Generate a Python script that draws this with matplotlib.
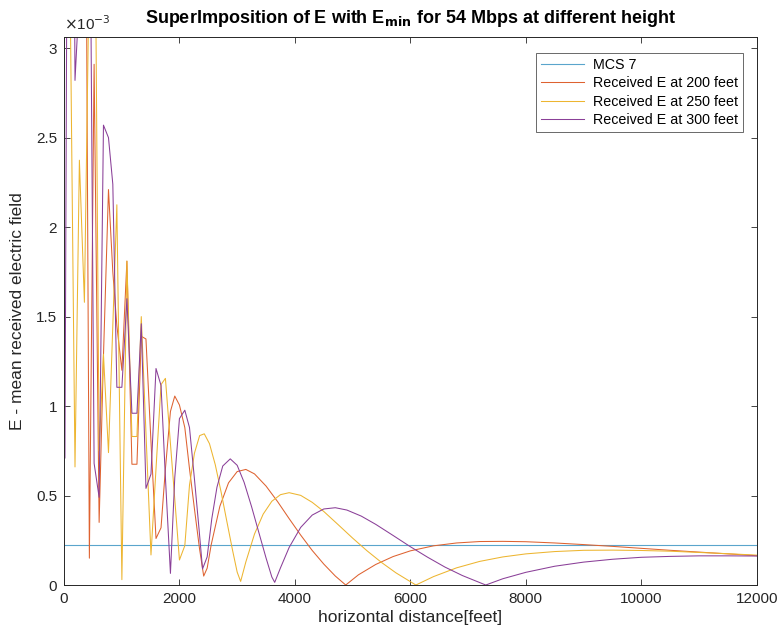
import numpy as np
import matplotlib.pyplot as plt
from matplotlib.ticker import FuncFormatter

plt.rcParams['font.family'] = ['Liberation Sans', 'DejaVu Sans']

# valeurs en unités de 1e-3
mcs7_level = 0.222
mcs7_dist = [0, 12000]

# zone proche : échantillonnage grossier commun aux trois hauteurs
dist_near = [17, 104, 191, 267, 354, 440, 522, 609, 684, 771, 846, 916, 1003,
             1090, 1177, 1264, 1339, 1420, 1507, 1594, 1681, 1757, 1844, 1919,
             2000, 2093, 2174]
e200_near = [9.0, 8.0, 6.5, 5.8, 5.6, 0.15, 2.91, 0.35, 1.28, 2.21, 1.75, 1.45,
             1.20, 1.81, 0.675, 0.675, 1.39, 1.375, 0.80, 0.26, 0.32, 0.65,
             0.97, 1.056, 1.006, 0.88, 0.65]
e250_near = [4.0, 3.4, 0.66, 2.374, 1.58, 3.5, 4.5, 0.75, 1.29, 0.74, 1.45,
             2.125, 0.03, 1.81, 0.83, 0.83, 1.50, 0.85, 0.168, 0.65, 1.12,
             1.155, 0.79, 0.48, 0.14, 0.22, 0.558]
e300_near = [0.71, 7.9, 2.82, 3.3, 5.0, 4.4, 0.68, 0.49, 2.57, 2.50, 2.24,
             1.105, 1.105, 1.60, 0.96, 0.96, 1.46, 0.54, 0.62, 1.21, 1.115,
             0.60, 0.065, 0.60, 0.93, 0.977, 0.88]

# zone lointaine
dist200_far = [2260, 2346, 2420, 2480, 2550, 2700, 2850, 3000, 3150, 3300, 3500,
               3700, 3900, 4100, 4300, 4500, 4700, 4880, 5100, 5400, 5700, 6000,
               6400, 6800, 7200, 7600, 8000, 8500, 9000, 9500, 10000, 10500,
               11000, 11500, 12000]
e200_far = [0.425, 0.207, 0.05, 0.094, 0.225, 0.440, 0.571, 0.634, 0.646, 0.621,
            0.553, 0.466, 0.371, 0.279, 0.193, 0.117, 0.050, 0.0, 0.057, 0.115,
            0.159, 0.191, 0.219, 0.235, 0.243, 0.244, 0.242, 0.235, 0.226,
            0.216, 0.205, 0.194, 0.184, 0.174, 0.164]

dist250_far = [2260, 2350, 2430, 2520, 2620, 2720, 2820, 2920, 3000, 3060, 3150,
               3300, 3450, 3600, 3750, 3900, 4100, 4300, 4500, 4750, 5000, 5250,
               5500, 5750, 6095, 6400, 6800, 7200, 7600, 8000, 8500, 9000, 9500,
               10000, 10500, 11000, 11500, 12000]
e250_far = [0.737, 0.835, 0.845, 0.790, 0.673, 0.522, 0.357, 0.194, 0.072, 0.02,
            0.129, 0.285, 0.396, 0.468, 0.505, 0.516, 0.501, 0.462, 0.411, 0.337,
            0.262, 0.191, 0.126, 0.068, 0.0, 0.047, 0.096, 0.132, 0.157, 0.174,
            0.187, 0.194, 0.195, 0.193, 0.189, 0.182, 0.175, 0.167]

dist300_far = [2260, 2340, 2400, 2480, 2560, 2650, 2750, 2880, 3000, 3120, 3250,
               3380, 3500, 3600, 3650, 3750, 3900, 4100, 4300, 4500, 4700, 4900,
               5150, 5400, 5700, 6000, 6300, 6600, 6900, 7305, 7600, 8000, 8500,
               9000, 9500, 10000, 10500, 11000, 11500, 12000]
e300_far = [0.592, 0.311, 0.09, 0.157, 0.370, 0.547, 0.665, 0.705, 0.669, 0.574,
            0.437, 0.288, 0.151, 0.045, 0.015, 0.096, 0.210, 0.322, 0.391, 0.425,
            0.432, 0.419, 0.385, 0.339, 0.277, 0.214, 0.155, 0.100, 0.053, 0.0,
            0.035, 0.071, 0.105, 0.128, 0.144, 0.155, 0.160, 0.163, 0.163, 0.162]

d200 = np.array(dist_near + dist200_far)
d250 = np.array(dist_near + dist250_far)
d300 = np.array(dist_near + dist300_far)
E200 = np.array(e200_near + e200_far)
E250 = np.array(e250_near + e250_far)
E300 = np.array(e300_near + e300_far)

ink = '#262626'
fig = plt.figure(figsize=(7.82, 6.37), dpi=100)
ax = fig.add_axes([0.0818, 0.0816, 0.886, 0.861])

ax.plot(mcs7_dist, [mcs7_level, mcs7_level], color='#5aa5cc', lw=0.8, label='MCS 7')
ax.plot(d200, E200, color='#DE6230', lw=0.75, label='Received E at 200 feet')
ax.plot(d250, E250, color='#EDB530', lw=0.75, label='Received E at 250 feet')
ax.plot(d300, E300, color='#8A3F98', lw=0.75, label='Received E at 300 feet')

ax.set_xlim(0, 12000)
ax.set_ylim(0, 3.065)
ax.set_xticks(np.arange(0, 12001, 2000))
ax.set_yticks(np.arange(0, 3.01, 0.5))
ax.yaxis.set_major_formatter(FuncFormatter(lambda v, p: '%g' % v))
ax.tick_params(direction='in', top=True, right=True, length=4, width=0.6,
               colors=ink, labelsize=11, pad=5)
for s in ax.spines.values():
    s.set_color(ink)
    s.set_linewidth(0.7)

ax.text(0, 1.006, r'$\times$10$^{-3}$', transform=ax.transAxes, ha='left',
        va='bottom', fontsize=11, color=ink)
ax.set_xlabel('horizontal distance[feet]', fontsize=12.5, color=ink, labelpad=3)
ax.set_ylabel('E - mean received electric field', fontsize=12.5, color=ink, labelpad=8)
ax.set_title(r'SuperImposition of E with E$_{\mathbf{min}}$ for 54 Mbps at different height',
             fontsize=13, fontweight='bold', color='black', pad=10)

leg = ax.legend(loc='upper right', bbox_to_anchor=(0.98, 0.97), fontsize=10.3,
                frameon=True, fancybox=False, handlelength=3.0, handletextpad=0.6,
                borderpad=0.35, labelspacing=0.3, borderaxespad=0)
leg.get_frame().set_edgecolor(ink)
leg.get_frame().set_linewidth(0.6)

fig.savefig('out.png', dpi=100, facecolor='white')
